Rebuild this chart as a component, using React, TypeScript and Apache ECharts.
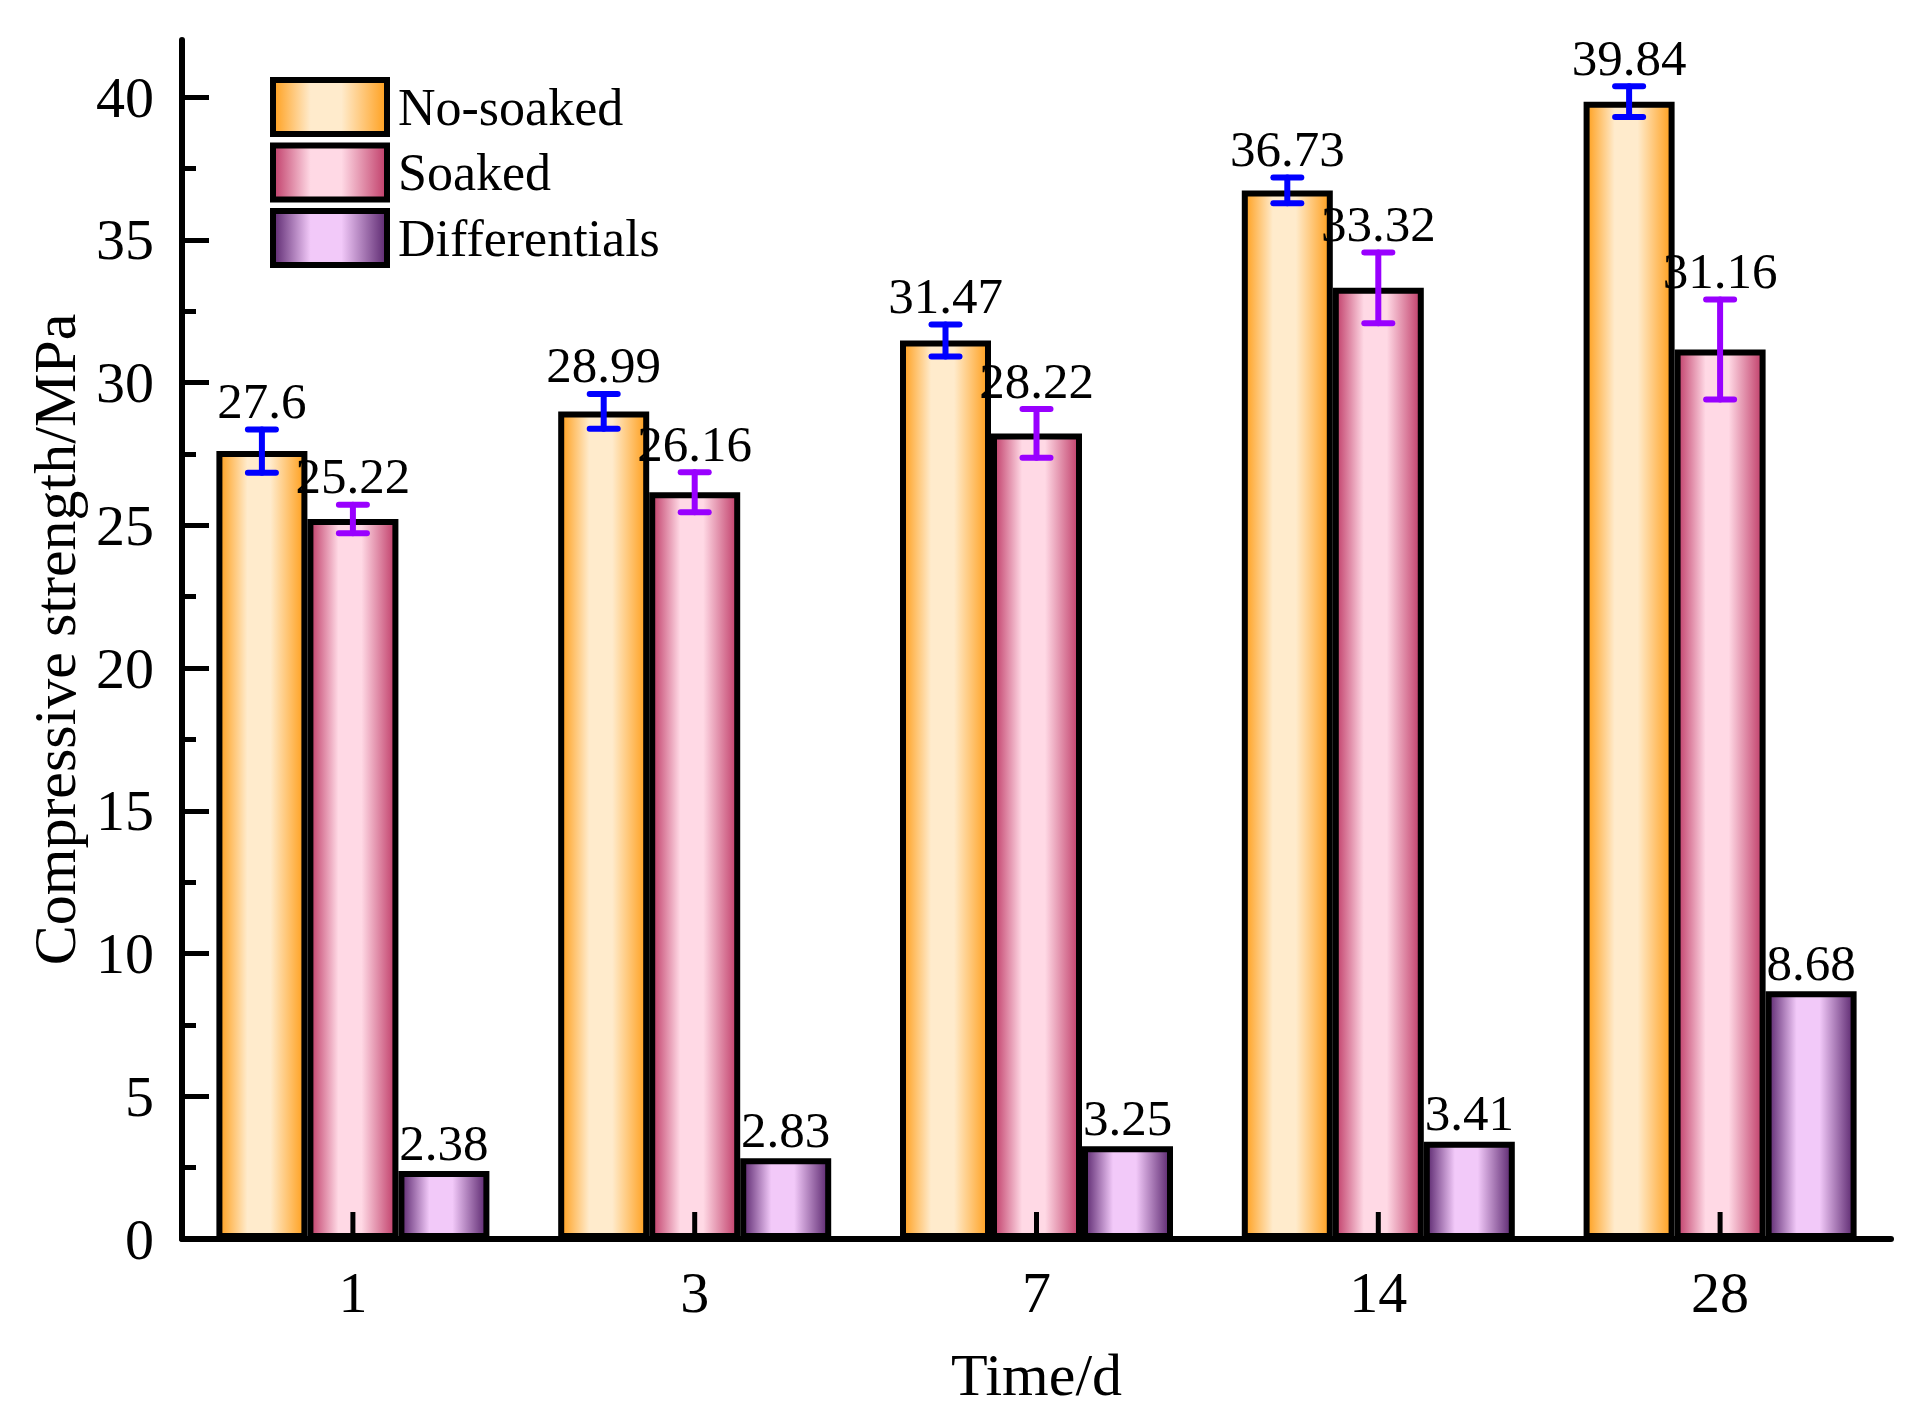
import React, { useEffect, useRef } from 'react';
import * as echarts from 'echarts';

const categories = ['1', '3', '7', '14', '28'];
const seriesNames = ['No-soaked', 'Soaked', 'Differentials'];
const noSoaked = [27.6, 28.99, 31.47, 36.73, 39.84];
const soaked = [25.22, 26.16, 28.22, 33.32, 31.16];
const differentials = [2.38, 2.83, 3.25, 3.41, 8.68];
const noSoakedErr = [0.76, 0.61, 0.56, 0.45, 0.54];
const soakedErr = [0.5, 0.7, 0.85, 1.24, 1.75];
const differentialsErr = [0, 0, 0, 0, 0];
const yMajorTicks = [0, 5, 10, 15, 20, 25, 30, 35, 40];
const yMinorTicks = [2.5, 7.5, 12.5, 17.5, 22.5, 27.5, 32.5, 37.5];

const FONT = "'Liberation Serif', 'Times New Roman', serif";
const BAR_W = 91;

const grad = (dark: string, light: string) => ({
  type: 'linear',
  x: 0,
  y: 0,
  x2: 1,
  y2: 0,
  colorStops: [
    { offset: 0, color: dark },
    { offset: 0.33, color: light },
    { offset: 0.6, color: light },
    { offset: 1, color: dark },
  ],
});

const fills = [
  grad('#FF9F1C', '#FFEBCC'),
  grad('#C03C68', '#FFD9E5'),
  grad('#5A266E', '#F2C9F9'),
];
const errColors = ['#0000FF', '#9900FF', '#000000'];

function makeRender(offsetIndex: number, color: string) {
  return (params: any, api: any) => {
    const idx = api.value(0);
    const v = api.value(1);
    const e = api.value(2);
    const topPt = api.coord([idx, v + e]);
    const botPt = api.coord([idx, v - e]);
    const x = topPt[0] + offsetIndex * BAR_W;
    const top = topPt[1];
    const bottom = botPt[1];
    const children: any[] = [];
    if (e > 0) {
      const lineStyle = { stroke: color, lineWidth: 6, lineCap: 'round' };
      children.push({ type: 'line', shape: { x1: x, y1: top, x2: x, y2: bottom }, style: lineStyle });
      children.push({ type: 'line', shape: { x1: x - 14, y1: top, x2: x + 14, y2: top }, style: lineStyle });
      children.push({ type: 'line', shape: { x1: x - 14, y1: bottom, x2: x + 14, y2: bottom }, style: lineStyle });
    }
    children.push({
      type: 'text',
      style: {
        text: String(v),
        x,
        y: top - 3,
        align: 'center',
        verticalAlign: 'bottom',
        fontSize: 51,
        fontFamily: FONT,
        fill: '#000',
      },
    });
    return { type: 'group', children };
  };
}

// category tick marks drawn above the bars (axis ticks point inward)
function renderCatTick(params: any, api: any) {
  const p = api.coord([api.value(0), 0]);
  return {
    type: 'line',
    shape: { x1: p[0], y1: p[1], x2: p[0], y2: p[1] - 27 },
    style: { stroke: '#000', lineWidth: 5 },
  };
}

export default function App() {
  const ref = useRef<HTMLDivElement>(null);
  useEffect(() => {
    if (!ref.current) return;
    const chart = echarts.init(ref.current, undefined, { renderer: 'svg' });
    const values = [noSoaked, soaked, differentials];
    const errs = [noSoakedErr, soakedErr, differentialsErr];
    const barSeries = seriesNames.map((name, i) => ({
      name,
      type: 'bar',
      data: values[i],
      barWidth: BAR_W,
      barGap: '0%',
      z: 2,
      itemStyle: { color: fills[i], borderColor: '#000', borderWidth: 6 },
    }));
    const errSeries = seriesNames.map((name, i) => ({
      name: name + ' err',
      type: 'custom',
      z: 5,
      renderItem: makeRender(i - 1, errColors[i]),
      data: values[i].map((v, j) => [j, v, errs[i][j]]),
      encode: { x: 0, y: 1 },
    }));
    const tickSeries = {
      name: 'cat ticks',
      type: 'custom',
      z: 6,
      renderItem: renderCatTick,
      data: categories.map((c, j) => [j, 0]),
      encode: { x: 0, y: 1 },
      silent: true,
    };
    chart.setOption({
      animation: false,
      backgroundColor: '#fff',
      grid: { left: 182, right: 29, top: 40, bottom: 183 },
      legend: {
        data: seriesNames,
        orient: 'vertical',
        left: 270,
        top: 77,
        padding: 0,
        itemWidth: 114,
        itemHeight: 54,
        itemGap: 5.5,
        icon: 'rect',
        selectedMode: false,
        itemStyle: { borderColor: '#000', borderWidth: 6 },
        textStyle: { fontSize: 52, fontFamily: FONT, color: '#000', padding: [0, 0, 0, 6], lineHeight: 54 },
      },
      xAxis: {
        type: 'category',
        data: categories,
        z: 10,
        axisLine: { lineStyle: { color: '#000', width: 6 } },
        axisTick: { inside: true, alignWithLabel: true, length: 27, lineStyle: { color: '#000', width: 5 } },
        axisLabel: { fontSize: 58, fontFamily: FONT, color: '#000', margin: 24 },
        name: 'Time/d',
        nameLocation: 'middle',
        nameGap: 106,
        nameTextStyle: { fontSize: 60, fontFamily: FONT, color: '#000' },
        splitLine: { show: false },
      },
      yAxis: [
        {
          type: 'value',
          min: 0,
          max: 42,
          interval: 5,
          z: 10,
          axisLine: { show: true, lineStyle: { color: '#000', width: 6 } },
          axisTick: { show: true, inside: true, length: 27, customValues: yMajorTicks, lineStyle: { color: '#000', width: 5 } },
          axisLabel: { customValues: yMajorTicks, fontSize: 58, fontFamily: FONT, color: '#000', margin: 28 },
          splitLine: { show: false },
          name: 'Compressive strength/MPa',
          nameLocation: 'middle',
          nameGap: 97,
          nameTextStyle: { fontSize: 60, fontFamily: FONT, color: '#000' },
        },
        {
          type: 'value',
          min: 0,
          max: 42,
          interval: 5,
          position: 'left',
          z: 10,
          axisLine: { show: false },
          axisTick: { show: true, inside: true, length: 14, customValues: yMinorTicks, lineStyle: { color: '#000', width: 5 } },
          axisLabel: { show: false },
          splitLine: { show: false },
        },
      ],
      series: [...barSeries, ...errSeries, tickSeries],
    });
    return () => chart.dispose();
  }, []);
  return <div ref={ref} style={{ position: 'fixed', left: 0, top: 0, width: 1920, height: 1422 }} />;
}
